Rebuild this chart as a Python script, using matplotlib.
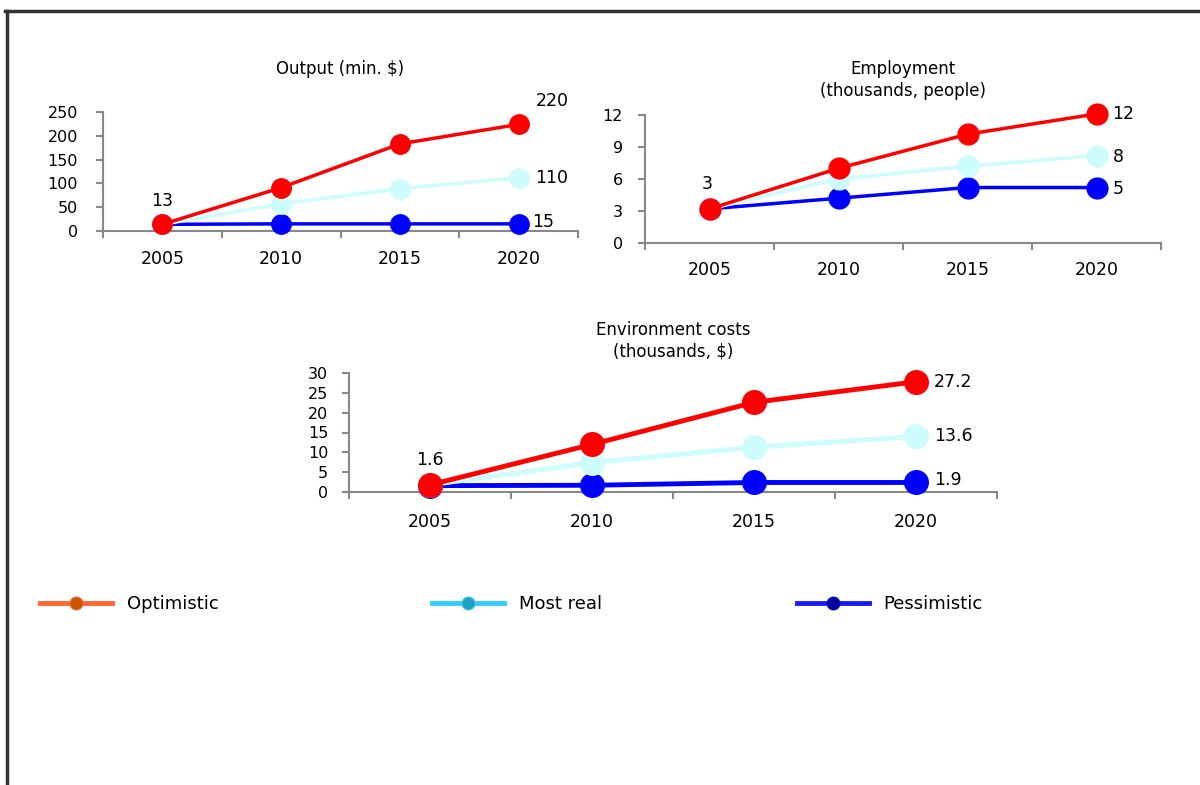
import matplotlib
matplotlib.use("Agg")
import matplotlib.pyplot as plt
from matplotlib.lines import Line2D

years = ["2005", "2010", "2015", "2020"]

output_opt = [14, 91, 183, 224]
output_real = [14, 57, 89, 112]
output_pess = [14, 15, 15, 15]

empl_opt = [3.2, 7.0, 10.2, 12.1]
empl_real = [3.2, 6.0, 7.2, 8.2]
empl_pess = [3.2, 4.2, 5.2, 5.2]

env_opt = [1.8, 12.0, 22.6, 27.8]
env_real = [1.8, 7.4, 11.3, 14.0]
env_pess = [1.6, 1.7, 2.4, 2.4]

W, H = 1200, 785
RED, CYAN, BLUE = "#ff0000", "#ccfcfc", "#0000ff"


def px_axes(fig, left, right, top, bottom):
    return fig.add_axes([left / W, 1 - bottom / H, (right - left) / W, (bottom - top) / H])


def style(ax, ymax, yticks, ypad, xpad):
    ax.set_xlim(-0.5, 3.5)
    ax.set_ylim(0, ymax)
    ax.set_yticks(yticks)
    ax.set_xticks(range(4))
    ax.set_xticklabels(years, fontsize=12.5)
    ax.set_xticks([-0.5, 0.5, 1.5, 2.5, 3.5], minor=True)
    ax.tick_params(axis="x", which="major", length=0, pad=xpad)
    ax.tick_params(axis="x", which="minor", length=5, color="#888888", width=1.5)
    ax.tick_params(axis="y", length=5, color="#888888", width=1.5, labelsize=11.5, pad=ypad)
    for s in ["top", "right"]:
        ax.spines[s].set_visible(False)
    for s in ["left", "bottom"]:
        ax.spines[s].set_color("#888888")
        ax.spines[s].set_linewidth(1.5)
    ax.patch.set_alpha(0)


def draw(ax, opt, real, pess, ms, lw):
    x = range(4)
    ax.plot(x, pess, color=BLUE, lw=lw, marker="o", ms=ms, zorder=3, clip_on=False)
    ax.plot(x, real, color=CYAN, lw=lw, marker="o", ms=ms, zorder=4, clip_on=False)
    ax.plot(x, opt, color=RED, lw=lw, marker="o", ms=ms, zorder=5, clip_on=False)


def label(ax, text, xy, dx, dy, ha="left"):
    ax.annotate(text, xy, xytext=(dx, dy), textcoords="offset points", ha=ha,
                va="center", fontsize=12.5, annotation_clip=False)


fig = plt.figure(figsize=(12, 7.85), dpi=100)

# frame lines (top and left)
fig.add_artist(Line2D([5 / W, 1], [1 - 11 / H, 1 - 11 / H], color="#333333", lw=2.5))
fig.add_artist(Line2D([7 / W, 7 / W], [0, 1 - 11 / H], color="#333333", lw=2.5))

# Output
ax1 = px_axes(fig, 103, 578, 112, 231)
style(ax1, 250, [0, 50, 100, 150, 200, 250], 13, 14)
draw(ax1, output_opt, output_real, output_pess, 14, 2.5)
ax1.set_title("Output (min. $)", fontsize=12, pad=27)
label(ax1, "13", (0, output_opt[0]), 0, 17, "center")
label(ax1, "220", (3, output_opt[3]), 12, 17)
label(ax1, "110", (3, output_real[3]), 12, 0)
label(ax1, "15", (3, output_pess[3]), 10, 1)

# Employment
ax2 = px_axes(fig, 645, 1161, 115, 243)
style(ax2, 12, [0, 3, 6, 9, 12], 11, 13)
draw(ax2, empl_opt, empl_real, empl_pess, 15, 2.5)
ax2.set_title("Employment\n(thousands, people)", fontsize=12, pad=14, linespacing=1.25)
label(ax2, "3", (0, empl_opt[0]), -2, 18, "center")
label(ax2, "12", (3, empl_opt[3]), 11, 0)
label(ax2, "8", (3, empl_real[3]), 12, -1)
label(ax2, "5", (3, empl_pess[3]), 12, -1)

# Environment costs
ax3 = px_axes(fig, 349, 997, 373, 492)
style(ax3, 30, [0, 5, 10, 15, 20, 25, 30], 10, 15)
draw(ax3, env_opt, env_real, env_pess, 17, 3.5)
ax3.set_title("Environment costs\n(thousands, $)", fontsize=12, pad=12, linespacing=1.25)
label(ax3, "1.6", (0, env_opt[0]), 0, 18, "center")
label(ax3, "27.2", (3, env_opt[3]), 13, 0)
label(ax3, "13.6", (3, env_real[3]), 13, 0)
label(ax3, "1.9", (3, env_pess[3]), 13, 2)

# legend
handles = [
    Line2D([], [], color="#ff6633", lw=3.5, marker="o", ms=9, mfc="#cc5500", mec="#dd6622"),
    Line2D([], [], color="#33ccff", lw=3.5, marker="o", ms=9, mfc="#1aa0c0", mec="#33bbdd"),
    Line2D([], [], color="#1a1aff", lw=3.5, marker="o", ms=9, mfc="#000099", mec="#0000cc"),
]
names = ["Optimistic", "Most real", "Pessimistic"]
for h, name, x0 in zip(handles, names, [40, 432, 797]):
    lax = px_axes(fig, x0, x0 + 400, 590, 618)
    lax.set_axis_off()
    lax.legend([h], [name], loc="center left", frameon=False, fontsize=13,
               handlelength=4.0, handletextpad=0.8, borderpad=0, borderaxespad=0)

fig.savefig("out.png", dpi=100)
